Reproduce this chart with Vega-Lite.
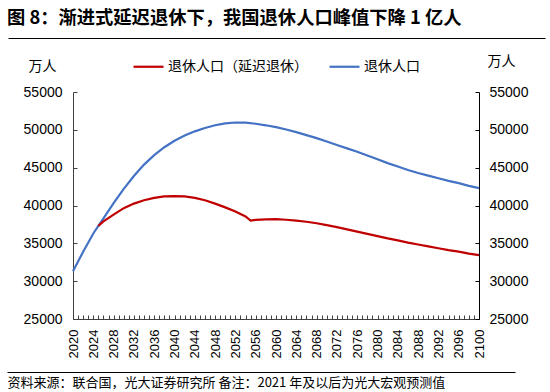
{
  "$schema": "https://vega.github.io/schema/vega-lite/v6.json",
  "padding": {"left": 7, "top": 9, "right": 5, "bottom": 0},
  "background": "white",
  "title": {"text": "图 8：渐进式延迟退休下，我国退休人口峰值下降 1 亿人", "anchor": "start", "fontSize": 18.3, "fontWeight": "bold", "font": "Noto Sans CJK SC", "color": "#000000", "offset": 7},
  "config": {"view": {"stroke": null}, "font": "Noto Sans CJK SC"},
  "spacing": 53,
  "bounds": "flush",
  "vconcat": [
    {
      "width": 406, "height": 1,
      "data": {"values": [{"v": 0.5}]},
      "mark": {"type": "point", "opacity": 0},
      "encoding": {
        "x": {"field": "v", "type": "quantitative", "scale": {"domain": [0, 1], "range": [-65, 472]},
              "axis": {"orient": "top", "domain": true, "domainColor": "#000000", "domainWidth": 1.2, "ticks": false, "labels": false, "grid": false, "title": null}}
      }
    },
    {
      "width": 406, "height": 227,
      "data": {"values": [
        {"year": 2020, "s": "退休人口", "v": 31300},
        {"year": 2022, "s": "退休人口", "v": 33900},
        {"year": 2024, "s": "退休人口", "v": 36300},
        {"year": 2025, "s": "退休人口", "v": 37300},
        {"year": 2026, "s": "退休人口", "v": 38300},
        {"year": 2028, "s": "退休人口", "v": 40300},
        {"year": 2030, "s": "退休人口", "v": 42200},
        {"year": 2032, "s": "退休人口", "v": 43900},
        {"year": 2034, "s": "退休人口", "v": 45400},
        {"year": 2036, "s": "退休人口", "v": 46650},
        {"year": 2038, "s": "退休人口", "v": 47700},
        {"year": 2040, "s": "退休人口", "v": 48550},
        {"year": 2042, "s": "退休人口", "v": 49250},
        {"year": 2044, "s": "退休人口", "v": 49800},
        {"year": 2046, "s": "退休人口", "v": 50250},
        {"year": 2048, "s": "退休人口", "v": 50600},
        {"year": 2050, "s": "退休人口", "v": 50850},
        {"year": 2052, "s": "退休人口", "v": 50970},
        {"year": 2054, "s": "退休人口", "v": 50950},
        {"year": 2056, "s": "退休人口", "v": 50800},
        {"year": 2058, "s": "退休人口", "v": 50600},
        {"year": 2060, "s": "退休人口", "v": 50350},
        {"year": 2062, "s": "退休人口", "v": 50050},
        {"year": 2064, "s": "退休人口", "v": 49700},
        {"year": 2066, "s": "退休人口", "v": 49300},
        {"year": 2068, "s": "退休人口", "v": 48900},
        {"year": 2070, "s": "退休人口", "v": 48450},
        {"year": 2072, "s": "退休人口", "v": 48000},
        {"year": 2074, "s": "退休人口", "v": 47550},
        {"year": 2076, "s": "退休人口", "v": 47100},
        {"year": 2078, "s": "退休人口", "v": 46600},
        {"year": 2080, "s": "退休人口", "v": 46100},
        {"year": 2082, "s": "退休人口", "v": 45600},
        {"year": 2084, "s": "退休人口", "v": 45150},
        {"year": 2086, "s": "退休人口", "v": 44700},
        {"year": 2088, "s": "退休人口", "v": 44300},
        {"year": 2090, "s": "退休人口", "v": 43950},
        {"year": 2092, "s": "退休人口", "v": 43600},
        {"year": 2094, "s": "退休人口", "v": 43250},
        {"year": 2096, "s": "退休人口", "v": 42950},
        {"year": 2098, "s": "退休人口", "v": 42600},
        {"year": 2100, "s": "退休人口", "v": 42300},
        {"year": 2025, "s": "退休人口（延迟退休）", "v": 37300},
        {"year": 2026, "s": "退休人口（延迟退休）", "v": 37900},
        {"year": 2028, "s": "退休人口（延迟退休）", "v": 38800},
        {"year": 2030, "s": "退休人口（延迟退休）", "v": 39650},
        {"year": 2032, "s": "退休人口（延迟退休）", "v": 40250},
        {"year": 2034, "s": "退休人口（延迟退休）", "v": 40700},
        {"year": 2036, "s": "退休人口（延迟退休）", "v": 41000},
        {"year": 2038, "s": "退休人口（延迟退休）", "v": 41200},
        {"year": 2040, "s": "退休人口（延迟退休）", "v": 41250},
        {"year": 2042, "s": "退休人口（延迟退休）", "v": 41200},
        {"year": 2044, "s": "退休人口（延迟退休）", "v": 41000},
        {"year": 2046, "s": "退休人口（延迟退休）", "v": 40700},
        {"year": 2048, "s": "退休人口（延迟退休）", "v": 40250},
        {"year": 2050, "s": "退休人口（延迟退休）", "v": 39750},
        {"year": 2052, "s": "退休人口（延迟退休）", "v": 39200},
        {"year": 2054, "s": "退休人口（延迟退休）", "v": 38550},
        {"year": 2055, "s": "退休人口（延迟退休）", "v": 38000},
        {"year": 2056, "s": "退休人口（延迟退休）", "v": 38100},
        {"year": 2058, "s": "退休人口（延迟退休）", "v": 38170},
        {"year": 2060, "s": "退休人口（延迟退休）", "v": 38190},
        {"year": 2062, "s": "退休人口（延迟退休）", "v": 38120},
        {"year": 2064, "s": "退休人口（延迟退休）", "v": 38000},
        {"year": 2066, "s": "退休人口（延迟退休）", "v": 37850},
        {"year": 2068, "s": "退休人口（延迟退休）", "v": 37650},
        {"year": 2070, "s": "退休人口（延迟退休）", "v": 37400},
        {"year": 2072, "s": "退休人口（延迟退休）", "v": 37150},
        {"year": 2074, "s": "退休人口（延迟退休）", "v": 36850},
        {"year": 2076, "s": "退休人口（延迟退休）", "v": 36550},
        {"year": 2078, "s": "退休人口（延迟退休）", "v": 36250},
        {"year": 2080, "s": "退休人口（延迟退休）", "v": 35950},
        {"year": 2082, "s": "退休人口（延迟退休）", "v": 35650},
        {"year": 2084, "s": "退休人口（延迟退休）", "v": 35400},
        {"year": 2086, "s": "退休人口（延迟退休）", "v": 35100},
        {"year": 2088, "s": "退休人口（延迟退休）", "v": 34850},
        {"year": 2090, "s": "退休人口（延迟退休）", "v": 34600},
        {"year": 2092, "s": "退休人口（延迟退休）", "v": 34350},
        {"year": 2094, "s": "退休人口（延迟退休）", "v": 34100},
        {"year": 2096, "s": "退休人口（延迟退休）", "v": 33900},
        {"year": 2098, "s": "退休人口（延迟退休）", "v": 33650},
        {"year": 2100, "s": "退休人口（延迟退休）", "v": 33450}
      ]},
      "encoding": {
        "x": {"field": "year", "type": "quantitative",
              "scale": {"domain": [2020, 2100], "nice": false, "zero": false},
              "axis": {"values": [2020,2021,2022,2023,2024,2025,2026,2027,2028,2029,2030,2031,2032,2033,2034,2035,2036,2037,2038,2039,2040,2041,2042,2043,2044,2045,2046,2047,2048,2049,2050,2051,2052,2053,2054,2055,2056,2057,2058,2059,2060,2061,2062,2063,2064,2065,2066,2067,2068,2069,2070,2071,2072,2073,2074,2075,2076,2077,2078,2079,2080,2081,2082,2083,2084,2085,2086,2087,2088,2089,2090,2091,2092,2093,2094,2095,2096,2097,2098,2099,2100],
                       "format": "d", "labelExpr": "datum.value % 4 === 0 ? datum.label : ''",
                       "labelOverlap": false, "labelAngle": -90, "labelFont": "Liberation Sans", "labelFontSize": 13, "labelColor": "#000000", "labelPadding": 14,
                       "tickSize": -4, "tickColor": "#404040", "domainColor": "#404040", "grid": false, "title": null}}
      },
      "layer": [
        {
          "transform": [{"filter": "datum.s === '退休人口'"}],
          "mark": {"type": "line", "strokeWidth": 2.2},
          "encoding": {
            "y": {"field": "v", "type": "quantitative", "scale": {"domain": [25000, 55000], "nice": false, "zero": false},
                  "axis": {"orient": "left", "values": [25000, 30000, 35000, 40000, 45000, 50000, 55000], "format": "d",
                           "labelFont": "Liberation Sans", "labelFontSize": 14, "labelColor": "#000000", "labelPadding": 15,
                           "tickSize": -4, "tickColor": "#404040", "domainColor": "#404040", "grid": false,
                           "title": "万人", "titleAngle": 0, "titleAlign": "center", "titleBaseline": "middle", "titleX": -31, "titleY": -26,
                           "titleFont": "Noto Sans CJK SC", "titleFontSize": 14, "titleFontWeight": "normal", "titleColor": "#000000"}},
            "color": {"field": "s", "type": "nominal",
                      "scale": {"domain": ["退休人口（延迟退休）", "退休人口"], "range": ["#C00000", "#4472C4"]},
                      "legend": {"orient": "none", "legendX": 59, "legendY": 12, "direction": "horizontal", "title": null,
                                 "symbolType": "stroke", "symbolSize": 900, "symbolStrokeWidth": 2.2, "labelOffset": 3, "columnPadding": 17,
                                 "labelFont": "Noto Sans CJK SC", "labelFontSize": 14, "labelColor": "#000000", "labelLimit": 300}}
          }
        },
        {
          "transform": [{"filter": "datum.s === '退休人口（延迟退休）'"}],
          "mark": {"type": "line", "strokeWidth": 2.2},
          "encoding": {
            "y": {"field": "v", "type": "quantitative", "scale": {"domain": [25000, 55000], "nice": false, "zero": false},
                  "axis": {"orient": "right", "values": [25000, 30000, 35000, 40000, 45000, 50000, 55000], "format": "d",
                           "labelFont": "Liberation Sans", "labelFontSize": 14, "labelColor": "#000000", "labelPadding": 14,
                           "tickSize": -4, "tickColor": "#000000", "domainColor": "#000000", "grid": false,
                           "title": "万人", "titleAngle": 0, "titleAlign": "center", "titleBaseline": "middle", "titleX": 22, "titleY": -31,
                           "titleFont": "Noto Sans CJK SC", "titleFontSize": 14, "titleFontWeight": "normal", "titleColor": "#000000"}},
            "color": {"field": "s", "type": "nominal"}
          }
        }
      ],
      "resolve": {"scale": {"y": "independent"}}
    },
    {
      "width": 406, "height": 1,
      "data": {"values": [{"v": 0.5}]},
      "mark": {"type": "point", "opacity": 0},
      "encoding": {
        "x": {"field": "v", "type": "quantitative", "scale": {"domain": [0, 1], "range": [-66, 442]},
              "axis": {"orient": "top", "domain": true, "domainColor": "#000000", "domainWidth": 1.2, "ticks": false, "labels": false, "grid": false,
                       "title": "资料来源：联合国，光大证券研究所 备注：2021 年及以后为光大宏观预测值",
                       "titleAnchor": "start", "titleAlign": "left", "titleBaseline": "middle", "titleX": -66, "titleY": 10,
                       "titleFont": "Noto Sans CJK SC", "titleFontSize": 13, "titleFontWeight": "normal", "titleColor": "#000000"}}
      }
    }
  ]
}
